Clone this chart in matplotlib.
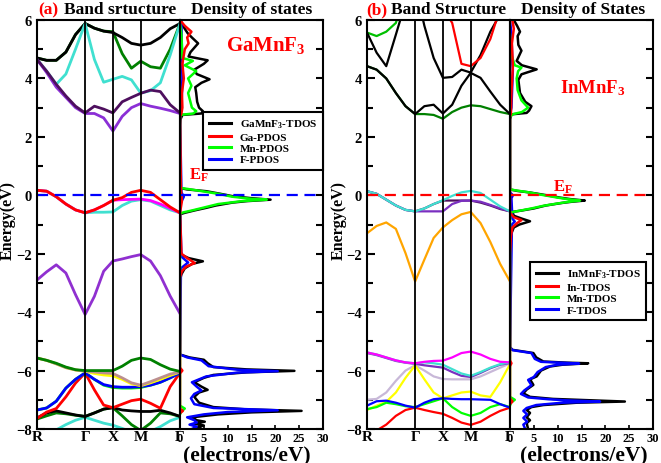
# Band structure + density of states for GaMnF3 (a) and InMnF3 (b),
# redrawn from values.
import matplotlib.pyplot as plt

plt.rcParams['font.family'] = 'Liberation Serif'
plt.rcParams['font.weight'] = 'bold'
plt.rcParams['mathtext.fontset'] = 'custom'
plt.rcParams['mathtext.rm'] = 'Liberation Serif:bold'
plt.rcParams['mathtext.it'] = 'Liberation Serif:bold'
plt.rcParams['mathtext.bf'] = 'Liberation Serif:bold'

# k-path: R - G - X - M - G (simple cubic, units of 2pi/a)
kpath_labels = ['R', 'Γ', 'X', 'M', 'Γ']
kpath_pos = [0.0, 0.866, 1.366, 1.866, 2.573]
seg_fracs = [[0.2, 0.4, 0.6, 0.8, 1.0], [1/3, 2/3, 1.0], [1/3, 2/3, 1.0], [0.25, 0.5, 0.75, 1.0]]

# ---------------- (a) GaMnF3 bands (eV), one value per k sample ----------
a_black_top = [4.70, 4.62, 4.62, 4.90, 5.50, 5.88, 5.72, 5.62, 5.57, 5.40, 5.20, 5.14, 5.20, 5.40, 5.70, 5.88]
a_green_top = [4.70, 4.62, 4.62, 4.90, 5.50, 5.88, 5.72, 5.62, 5.60, 4.85, 4.35, 4.59, 4.40, 4.35, 5.00, 5.88]
a_cyan_top = [4.65, 4.25, 3.80, 4.15, 5.00, 5.88, 4.65, 3.87, 3.97, 4.07, 3.95, 3.50, 3.58, 3.85, 4.80, 5.88]
a_indigo_top = [4.65, 4.25, 3.80, 3.40, 3.05, 2.82, 3.05, 2.95, 2.82, 3.20, 3.35, 3.49, 3.60, 3.55, 3.10, 2.82]
a_violet_top = [4.65, 4.20, 3.70, 3.35, 3.00, 2.80, 2.80, 2.65, 2.20, 2.70, 3.00, 3.14, 3.05, 2.98, 2.90, 2.80]
a_cyan_vb = [0.17, 0.14, -0.05, -0.30, -0.50, -0.60, -0.58, -0.58, -0.57, -0.35, -0.20, -0.15, -0.20, -0.35, -0.50, -0.60]
a_magenta_vb = [0.17, 0.14, -0.05, -0.30, -0.50, -0.60, -0.50, -0.35, -0.17, -0.15, -0.14, -0.13, -0.18, -0.30, -0.45, -0.60]
a_red_vb = [0.17, 0.14, -0.05, -0.30, -0.50, -0.60, -0.50, -0.35, -0.17, -0.08, 0.10, 0.17, 0.10, -0.15, -0.40, -0.60]
a_violet_vb = [-2.90, -2.62, -2.38, -2.66, -3.40, -4.08, -3.46, -2.60, -2.25, -2.18, -2.10, -2.03, -2.25, -2.75, -3.45, -4.05]
a_green_low1 = [-5.57, -5.65, -5.75, -5.88, -5.97, -6.00, -6.00, -6.00, -6.00, -5.85, -5.65, -5.57, -5.62, -5.80, -5.95, -6.03]
a_tan_low = [-5.57, -5.65, -5.77, -5.90, -5.98, -6.02, -6.05, -6.08, -6.10, -6.25, -6.42, -6.50, -6.38, -6.25, -6.12, -6.05]
a_yellow_low = [-5.57, -5.65, -5.77, -5.90, -5.98, -6.02, -6.10, -6.15, -6.18, -6.30, -6.45, -6.52, -6.42, -6.30, -6.17, -6.05]
a_lime_low = [-7.35, -7.28, -7.05, -6.60, -6.30, -6.08, -6.30, -6.50, -6.58, -6.60, -6.60, -6.58, -6.50, -6.40, -6.25, -6.08]
a_blue_low = [-7.35, -7.28, -7.05, -6.60, -6.30, -6.08, -6.30, -6.48, -6.55, -6.57, -6.57, -6.55, -6.50, -6.40, -6.25, -6.08]
a_red_low = [-7.64, -7.42, -7.30, -6.90, -6.43, -6.08, -6.66, -7.18, -7.27, -7.15, -7.03, -6.98, -7.12, -7.29, -6.55, -6.08]
a_green_low2 = [-7.66, -7.55, -7.45, -7.48, -7.53, -7.57, -7.45, -7.32, -7.27, -7.55, -7.85, -8.05, -7.80, -7.45, -7.48, -7.57]
a_black_low = [-7.62, -7.45, -7.38, -7.45, -7.52, -7.57, -7.45, -7.32, -7.27, -7.35, -7.38, -7.40, -7.40, -7.36, -7.45, -7.57]
a_cyan_low = [-8.35, -8.20, -8.03, -7.85, -7.70, -7.60, -7.70, -7.80, -7.87, -7.98, -8.10, -8.20, -8.08, -7.92, -7.72, -7.60]

# ---------------- (a) GaMnF3 DOS (energy, states/eV) ---------------------
a_tdos_e = [6.0, 5.85, 5.7, 5.55, 5.4, 5.2, 5.05, 4.9, 4.75, 4.62, 4.5, 4.3, 4.15, 3.97, 3.85, 3.7, 3.5, 3.2,
            3.0, 2.88, 2.8, 2.75, 2.6, 2.4, 0.25, 0.2, 0.14, 0.05, -0.03, -0.1, -0.15, -0.2, -0.25, -0.35,
            -0.43, -0.52, -0.6, -0.65, -1.9, -2.05, -2.15, -2.26, -2.35, -2.5, -2.7, -2.9, -5.45, -5.55,
            -5.63, -5.75, -5.88, -5.96, -6.01, -6.06, -6.15, -6.25, -6.4, -6.55, -6.66, -6.75, -6.9, -7.1,
            -7.25, -7.33, -7.38, -7.43, -7.5, -7.6, -7.7, -7.75, -7.82, -7.88, -7.95, -8.0]
a_tdos = [0.0, 0.5, 1.0, 1.6, 2.5, 3.8, 3.0, 2.2, 1.8, 5.8, 5.0, 3.0, 3.5, 6.2, 4.5, 3.2, 3.4, 3.6,
          4.0, 4.8, 4.5, 0.5, 0.1, 0.0, 0.0, 1.5, 5.5, 8.5, 11.0, 15.0, 19.0, 14.0, 11.0, 7.5,
          5.5, 3.0, 1.0, 0.0, 0.0, 0.5, 1.8, 4.8, 2.5, 1.0, 0.3, 0.0, 0.0, 2.0,
          5.0, 5.8, 7.0, 14.0, 24.0, 14.0, 7.0, 5.0, 3.0, 4.5, 5.8, 4.0, 3.0, 4.0,
          7.0, 14.0, 25.5, 15.0, 8.0, 2.5, 3.5, 5.2, 3.0, 5.0, 3.5, 4.5]
a_ga_e = [6.0, 5.8, 5.6, 5.4, 5.2, 5.0, 4.8, 4.5, 4.0, 3.5, 3.0, 2.8, 2.7, 0.2, 0.0, -0.2, -0.6,
          -2.0, -2.15, -2.32, -2.45, -2.6, -2.8, -5.9, -6.0, -6.1, -7.3, -7.38, -7.46]
a_ga = [0.0, 1.0, 2.4, 1.5, 1.8, 1.0, 0.8, 0.5, 0.8, 0.4, 0.5, 0.3, 0.0, 0.2, 0.3, 0.4, 0.0,
        0.3, 1.5, 3.1, 1.2, 0.4, 0.0, 0.0, 0.5, 0.0, 0.0, 0.6, 0.0]
a_mn_e = [5.9, 5.5, 4.7, 4.6, 4.45, 4.25, 4.0, 3.75, 3.5, 3.0, 2.88, 2.8, 2.75, 0.25, 0.22, 0.13, 0.05,
          -0.05, -0.12, -0.15, -0.2, -0.3, -0.42, -0.52, -0.58, -0.62, -7.2, -7.3, -7.4, -7.5]
a_mn = [0.0, 0.3, 0.5, 2.7, 1.0, 3.4, 1.7, 2.4, 1.7, 2.5, 3.4, 2.8, 0.0, 0.0, 1.5, 5.0, 8.0,
        11.0, 15.0, 18.2, 13.0, 8.0, 5.0, 2.5, 0.8, 0.0, 0.0, 1.0, 0.3, 0.0]
a_f_e = [5.9, 5.0, 4.0, 3.0, 2.8, 0.1, -0.05, -0.15, -0.3, -2.1, -2.3, -2.5, -5.45, -5.55, -5.65,
         -5.85, -5.97, -6.02, -6.07, -6.2, -6.4, -6.55, -6.68, -6.8, -6.95, -7.15, -7.28, -7.36, -7.42,
         -7.5, -7.6, -7.7, -7.78, -7.85, -7.92, -8.0]
a_f = [0.3, 0.4, 0.5, 0.3, 0.0, 0.3, 0.8, 0.5, 0.0, 0.3, 1.7, 0.2, 0.0, 1.5, 4.5,
       6.0, 12.0, 20.5, 12.0, 5.5, 2.5, 3.5, 4.5, 3.0, 2.3, 3.0, 7.0, 20.5, 10.0,
       5.0, 1.5, 3.0, 3.5, 2.0, 3.5, 2.5]

# ---------------- (b) InMnF3 bands (eV) -----------------------------------
b_green_top = [5.57, 5.45, 5.60, 5.90, 7.00, 7.50, 7.50, 7.50, 7.50, 7.50, 7.50, 7.50, 7.50, 7.50, 7.50, 7.50]
b_black_top = [5.57, 4.88, 4.42, 5.50, 6.60, 7.20, 5.80, 4.70, 4.02, 4.05, 4.30, 4.20, 4.80, 5.60, 6.20, 7.20]
b_red_top = [7.50, 7.50, 7.50, 7.50, 7.50, 7.50, 7.20, 6.80, 6.40, 5.90, 4.50, 4.42, 4.70, 5.35, 6.40, 7.50]
b_green_cb = [4.42, 4.30, 4.00, 3.50, 3.05, 2.78, 2.78, 2.75, 2.62, 2.85, 3.00, 3.08, 3.05, 2.95, 2.85, 2.78]
b_black_cb = [4.42, 4.30, 4.00, 3.50, 3.05, 2.78, 3.05, 3.10, 2.80, 3.10, 3.75, 4.19, 4.02, 3.55, 3.10, 2.78]
b_indigo_vb = [0.14, 0.05, -0.15, -0.35, -0.50, -0.55, -0.45, -0.30, -0.18, -0.18, -0.18, -0.18, -0.25, -0.35, -0.47, -0.55]
b_purple_vb = [0.14, 0.05, -0.15, -0.35, -0.50, -0.55, -0.55, -0.55, -0.55, -0.30, -0.19, -0.18, -0.22, -0.33, -0.45, -0.55]
b_cyan_vb = [0.14, 0.05, -0.15, -0.35, -0.50, -0.55, -0.45, -0.30, -0.17, -0.02, 0.10, 0.15, 0.08, -0.15, -0.38, -0.55]
b_orange_vb = [-1.30, -1.05, -0.93, -1.15, -1.98, -2.95, -2.20, -1.46, -1.10, -0.85, -0.65, -0.57, -0.95, -1.60, -2.35, -2.95]
b_thistle_low = [-7.00, -6.97, -6.75, -6.35, -6.00, -5.82, -6.00, -6.20, -6.29, -6.30, -6.30, -6.30, -6.20, -6.05, -5.90, -5.75]
b_yellow_low = [-7.35, -7.20, -7.07, -6.75, -6.25, -5.82, -6.30, -6.75, -6.95, -6.85, -6.75, -6.72, -6.85, -6.90, -6.40, -5.78]
b_green_low = [-7.32, -7.25, -7.10, -7.15, -7.22, -7.25, -7.15, -7.05, -6.95, -7.25, -7.45, -7.55, -7.45, -7.25, -7.15, -7.25]
b_blue_low = [-7.20, -7.05, -7.03, -7.10, -7.20, -7.27, -7.10, -6.98, -6.95, -6.97, -6.98, -6.98, -6.99, -7.00, -7.15, -7.27]
b_red_low = [-8.40, -8.05, -7.85, -7.55, -7.35, -7.27, -7.35, -7.42, -7.48, -7.62, -7.78, -7.86, -7.75, -7.55, -7.38, -7.27]
b_purple_low = [-5.40, -5.47, -5.57, -5.67, -5.73, -5.77, -5.82, -5.86, -5.90, -6.05, -6.18, -6.22, -6.08, -5.92, -5.80, -5.74]
b_cyan_low = [-5.38, -5.45, -5.55, -5.65, -5.72, -5.75, -5.72, -5.75, -5.80, -5.95, -6.10, -6.18, -6.05, -5.90, -5.78, -5.72]
b_magenta_low = [-5.38, -5.45, -5.55, -5.65, -5.72, -5.75, -5.70, -5.67, -5.66, -5.55, -5.40, -5.35, -5.45, -5.60, -5.70, -5.72]

# ---------------- (b) InMnF3 DOS ------------------------------------------
b_tdos_e = [6.0, 5.8, 5.6, 5.45, 5.15, 4.95, 4.6, 4.45, 4.31, 4.2, 4.14, 3.95, 3.5, 3.2, 3.05, 2.9,
            2.82, 2.77, 2.6, 0.2, 0.15, 0.1, 0.02, -0.08, -0.13, -0.18, -0.22, -0.26, -0.35, -0.45,
            -0.52, -0.57, -0.7, -0.8, -0.89, -1.0, -1.1, -1.3, -1.6, -2.0, -5.2, -5.29, -5.4, -5.55,
            -5.69, -5.73, -5.75, -5.8, -5.86, -6.0, -6.2, -6.3, -6.49, -6.65, -6.78, -6.9, -6.97, -7.0,
            -7.06, -7.1, -7.18, -7.25, -7.35, -7.45, -7.6, -7.7, -7.8, -8.0]
b_tdos = [0.8, 1.5, 2.1, 1.6, 1.75, 2.4, 1.4, 2.5, 5.6, 3.5, 2.4, 1.75, 2.1, 3.2, 4.5, 4.0,
          3.5, 0.3, 0.0, 0.0, 1.5, 4.0, 7.0, 10.5, 12.6, 15.7, 13.0, 11.0, 7.5, 5.0,
          2.5, 0.5, 0.8, 2.5, 4.2, 2.0, 0.8, 0.3, 0.1, 0.0, 0.0, 0.5, 4.9, 5.5,
          7.0, 12.0, 16.4, 11.0, 8.4, 6.5, 5.6, 4.2, 4.9, 3.5, 2.8, 4.2, 9.0, 14.0,
          24.1, 14.0, 7.0, 4.5, 3.5, 4.2, 3.5, 4.2, 3.5, 3.8]
b_in_e = [6.0, 5.7, 5.2, 4.4, 3.5, 2.8, 2.7, -0.6, -0.75, -0.85, -0.95, -1.1, -1.4, -2.0,
          -5.65, -5.75, -5.85, -6.95, -7.06, -7.15]
b_in = [0.5, 0.8, 0.4, 0.6, 0.3, 0.2, 0.0, 0.0, 0.8, 2.4, 1.5, 0.5, 0.2, 0.0,
        0.0, 0.3, 0.0, 0.0, 0.5, 0.0]
b_mn_e = [5.5, 4.8, 4.45, 4.37, 4.25, 4.0, 3.6, 3.25, 3.0, 2.85, 2.78, 2.7, 0.2, 0.16, 0.1, 0.02,
          -0.08, -0.13, -0.18, -0.22, -0.28, -0.36, -0.45, -0.53, -0.58, -0.7, -6.9, -7.0, -7.1, -7.2]
b_mn = [0.0, 0.3, 1.0, 2.4, 1.7, 1.4, 1.6, 2.4, 3.8, 2.5, 0.7, 0.0, 0.0, 1.5, 4.0, 6.5,
        10.0, 12.0, 14.7, 12.5, 10.0, 7.0, 4.5, 2.0, 0.3, 0.0, 0.0, 1.0, 0.2, 0.0]
b_f_e = [6.0, 5.5, 4.5, 4.3, 3.0, 2.77, 0.1, 0.0, -0.1, -0.8, -0.9, -1.0, -5.2, -5.3, -5.4, -5.6,
         -5.7, -5.74, -5.76, -5.8, -5.88, -6.05, -6.22, -6.32, -6.5, -6.68, -6.8, -6.92, -6.98,
         -7.02, -7.06, -7.1, -7.18, -7.28, -7.38, -7.5, -7.62, -7.75, -7.85, -8.0]
b_f = [0.0, 0.3, 0.5, 0.6, 0.3, 0.0, 0.0, 0.6, 0.3, 0.5, 1.0, 0.4, 0.0, 0.5, 4.5, 5.2,
       6.5, 12.0, 14.5, 10.0, 7.5, 5.8, 5.0, 3.8, 4.5, 3.0, 2.3, 3.8, 8.0,
       12.0, 18.9, 11.0, 5.5, 3.5, 2.8, 3.6, 2.8, 3.6, 2.8, 3.2]

# -----------------------------------------------------------------------------

kpts = [kpath_pos[0]]
for i, fracs in enumerate(seg_fracs):
    k0, k1 = kpath_pos[i], kpath_pos[i + 1]
    for f in fracs:
        kpts.append(k0 + f * (k1 - k0))

a_bands = [(a_green_top, '#008000'), (a_black_top, 'black'), (a_cyan_top, '#40e0d0'),
           (a_violet_top, '#8b2fd6'), (a_indigo_top, '#4e0f5e'),
           (a_cyan_vb, '#40e0d0'), (a_magenta_vb, '#ff00ff'), (a_red_vb, 'red'),
           (a_violet_vb, '#9030d0'),
           (a_cyan_low, '#40e0d0'), (a_green_low2, '#008000'), (a_black_low, 'black'),
           (a_red_low, 'red'), (a_lime_low, '#00ff00'), (a_blue_low, 'blue'),
           (a_yellow_low, '#ffff00'), (a_tan_low, '#bc8f8f'), (a_green_low1, '#008000')]
b_bands = [(b_green_top, '#00c000'), (b_black_top, 'black'), (b_red_top, 'red'),
           (b_green_cb, '#008000'), (b_black_cb, 'black'),
           (b_indigo_vb, '#4e0f5e'), (b_purple_vb, '#7a2fc0'), (b_cyan_vb, '#40e0d0'),
           (b_orange_vb, '#ffa500'),
           (b_thistle_low, '#c8b8d8'), (b_yellow_low, '#ffff00'), (b_red_low, 'red'),
           (b_green_low, '#00ff00'), (b_blue_low, 'blue'), (b_purple_low, '#7a2fc0'),
           (b_cyan_low, '#40e0d0'), (b_magenta_low, '#ff00ff')]

a_dos = [(a_tdos_e, a_tdos, 'black'), (a_f_e, a_f, 'blue'),
         (a_mn_e, a_mn, '#00ff00'), (a_ga_e, a_ga, 'red')]
a_legend = ['GaMnF$_3$-TDOS', 'Ga-PDOS', 'Mn-PDOS', 'F-PDOS']
b_dos = [(b_tdos_e, b_tdos, 'black'), (b_f_e, b_f, 'blue'),
         (b_mn_e, b_mn, '#00ff00'), (b_in_e, b_in, 'red')]
b_legend = ['InMnF$_3$-TDOS', 'In-TDOS', 'Mn-TDOS', 'F-TDOS']

fig = plt.figure(figsize=(6.61, 4.64), dpi=100)

W, H = 661.0, 464.0
bot, top = 1 - 430 / H, 1 - 21 / H


def make_axes(x0, x1):
    return fig.add_axes([x0 / W, bot, (x1 - x0) / W, top - bot])


def style_spines(ax):
    for s in ax.spines.values():
        s.set_linewidth(1.5)


def draw_panel(xb, bands, dos, legend_labels, band_lw, ef_color, leg_anchor, leg_loc):
    axb = make_axes(xb, xb + 143)
    axd = make_axes(xb + 143, xb + 286)

    for vals, c in bands:
        axb.plot(kpts, vals, color=c, lw=band_lw, solid_joinstyle='round')
    for k in kpath_pos[1:-1]:
        axb.axvline(k, color='black', lw=1.3)
    axb.axhline(0, color=ef_color, lw=1.6, dashes=(5, 3))
    axb.set_xlim(kpath_pos[0], kpath_pos[-1])
    axb.set_ylim(-8, 6)
    axb.set_xticks(kpath_pos, kpath_labels)
    axb.tick_params(axis='x', length=0, pad=1, labelsize=11)
    axb.set_yticks(range(-8, 7, 2))
    axb.set_yticks(range(-7, 6, 2), minor=True)
    axb.tick_params(axis='y', which='major', direction='in', length=6, width=1.5, labelsize=10.5)
    axb.tick_params(axis='y', which='minor', direction='in', length=4, width=1.5)
    style_spines(axb)

    handles = []
    for e, d, c in dos:
        h, = axd.plot(d, e, color=c, lw=1.8, solid_joinstyle='round')
        handles.append(h)
    axd.axhline(0, color=ef_color, lw=1.6, dashes=(5, 3))
    axd.set_xlim(0, 30)
    axd.set_ylim(-8, 6)
    axd.set_xticks(range(0, 31, 5))
    axd.tick_params(axis='x', direction='in', length=3, width=1.2, pad=2, labelsize=9)
    axd.yaxis.tick_right()
    axd.set_yticks(range(-8, 7, 2))
    axd.set_yticks(range(-7, 6, 2), minor=True)
    axd.tick_params(axis='y', which='both', direction='in', length=5, width=1.5, labelright=False)
    style_spines(axd)

    # legend order: TDOS, metal, Mn, F
    leg = axd.legend([handles[0], handles[3], handles[2], handles[1]], legend_labels,
                     loc=leg_loc, bbox_to_anchor=leg_anchor, fontsize=8, frameon=True,
                     fancybox=False, edgecolor='black', framealpha=1, borderaxespad=0,
                     handlelength=2.0, labelspacing=0.15, borderpad=0.5)
    leg.get_frame().set_linewidth(1.5)
    for h in leg.get_lines():
        h.set_linewidth(2.2)
    return axb, axd


draw_panel(37, a_bands, a_dos, a_legend, 2.0, 'blue', (1.0, 0.775), 'upper right')
draw_panel(367, b_bands, b_dos, b_legend, 1.6, 'red', (0.14, 0.408), 'upper left')

# titles
fig.text(38 / W, 1 - 10 / H, '(a)', color='red', fontsize=12.5, va='center')
fig.text(64 / W, 1 - 10 / H, 'Band srtucture', color='black', fontsize=12.5, va='center')
fig.text(252 / W, 1 - 10 / H, 'Density of states', color='black', fontsize=12.5, va='center', ha='center')
fig.text(366 / W, 1 - 10 / H, '(b)', color='red', fontsize=12.5, va='center')
fig.text(391 / W, 1 - 10 / H, 'Band Structure', color='black', fontsize=12.5, va='center')
fig.text(583 / W, 1 - 10 / H, 'Density of States', color='black', fontsize=12.5, va='center', ha='center')

fig.text(8 / W, 1 - 220 / H, 'Energy(eV)', rotation=90, fontsize=11.5, va='center', ha='center')
fig.text(339 / W, 1 - 220 / H, 'Energy(eV)', rotation=90, fontsize=11.5, va='center', ha='center')

fig.text(183 / W, 1 - 455 / H, '(electrons/eV)', fontsize=15.5, va='center')
fig.text(520 / W, 1 - 455 / H, '(electrons/eV)', fontsize=15.5, va='center')

fig.text(266 / W, 1 - 45 / H, 'GaMnF$_3$', color='red', fontsize=15, va='center', ha='center')
fig.text(593 / W, 1 - 88 / H, 'InMnF$_3$', color='red', fontsize=13.5, va='center', ha='center')

fig.text(199 / W, 1 - 175 / H, 'E$_\\mathrm{F}$', color='red', fontsize=12, va='center', ha='center')
fig.text(563 / W, 1 - 187 / H, 'E$_\\mathrm{F}$', color='red', fontsize=12, va='center', ha='center')

plt.savefig('out.png', dpi=100)
